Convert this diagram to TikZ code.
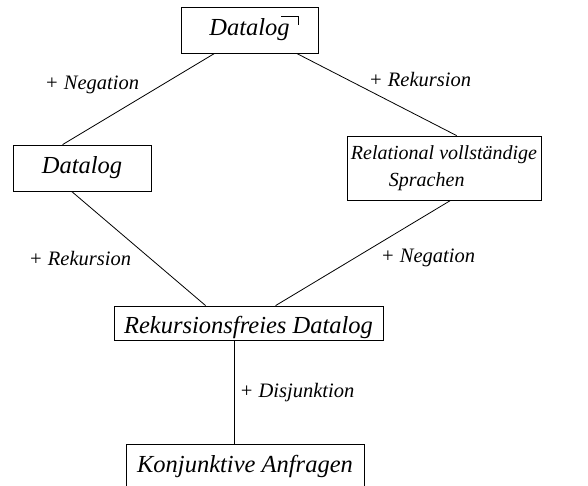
\documentclass[tikz,border=0pt]{standalone}
\usepackage{fontspec}
\setmainfont{Liberation Serif}
\usetikzlibrary{calc}
\begin{document}
\begin{tikzpicture}[x=1pt,y=-1pt, line width=0.8pt,
  box/.style={draw, rectangle, inner sep=0pt, font=\fontsize{24.5}{28}\selectfont\itshape},
  lbl/.style={anchor=base, inner sep=0pt, font=\fontsize{20.5}{22}\selectfont\itshape}]
\useasboundingbox (0,0) rectangle (588,486);
\clip (0,0) rectangle (588,486);
\node[box, minimum width=137pt, minimum height=46pt, text height=18pt, text depth=6pt] (dlneg) at (249.5,30) {Datalog\hspace{12pt}};
\draw (281,16) -- (298,16) -- (298,25);
\node[box, minimum width=138pt, minimum height=46pt, text height=18pt, text depth=6pt] (dl) at (82,168) {Datalog\hspace{7pt}};
\node[box, minimum width=194pt, minimum height=64pt, align=left, font=\fontsize{20}{27}\selectfont\itshape] (rel) at (444,168) {Relational vollständige\\\hspace*{38pt}Sprachen};
\node[box, minimum width=269pt, minimum height=34pt, text height=20pt, text depth=0pt] (rek) at (248.5,323) {Rekursionsfreies Datalog};
\node[box, minimum width=238pt, minimum height=60pt, text height=14pt, text depth=18pt] (konj) at (245,474) {Konjunktive Anfragen};
\draw ([xshift=34pt]dlneg.south west) -- ([xshift=50pt]dl.north west);
\draw ([xshift=116pt]dlneg.south west) -- ([xshift=110pt]rel.north west);
\draw ([xshift=59pt]dl.south west) -- ([xshift=92pt]rek.north west);
\draw ([xshift=104pt]rel.south west) -- ([xshift=162pt]rek.north west);
\draw ([xshift=121pt]rek.south west) -- ([xshift=109pt]konj.north west);
\node[lbl] (l1) at (92,90) {+ Negation};
\node[lbl] (l2) at (420,87) {+ Rekursion};
\node[lbl] (l3) at (80,265) {+ Rekursion};
\node[lbl] (l4) at (428,262) {+ Negation};
\node[lbl] (l5) at (297,397) {+ Disjunktion};
\end{tikzpicture}
\end{document}
